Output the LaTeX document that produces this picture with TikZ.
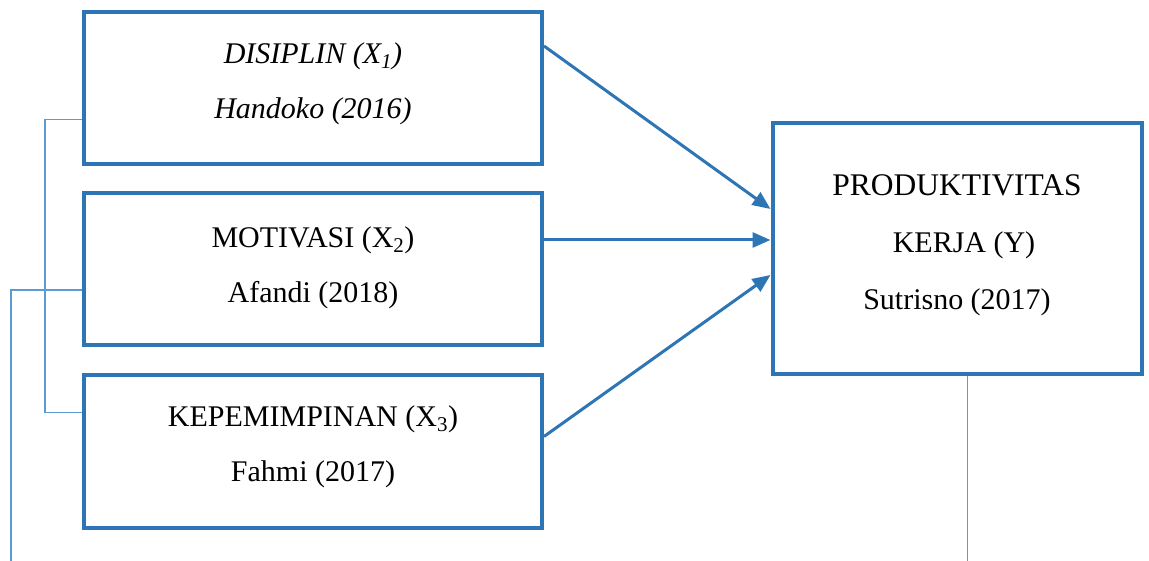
\documentclass[tikz,border=0pt]{standalone}
\usepackage{fontspec}
\setmainfont{Liberation Serif}
\usetikzlibrary{arrows.meta}
\definecolor{boxblue}{HTML}{2E75B6}
\definecolor{lineblue}{HTML}{5B9BD5}
\tikzset{
varbox/.style={draw=boxblue,line width=4pt,minimum width=458pt,minimum height=152pt,inner sep=0pt},
vartext/.style={align=center,font=\fontsize{30pt}{55pt}\selectfont},
link/.style={draw=lineblue,line width=1.5pt},
effect/.style={draw=boxblue,line width=3pt,-{Triangle[length=18pt,width=15pt]}}
}
\begin{document}
\begin{tikzpicture}[x=1pt,y=-1pt]
\useasboundingbox (0,0) rectangle (1149,561);
\node[varbox] (x1) at (313,88.5) {};
\node[varbox] (x2) at (313,269.5) {};
\node[varbox] (x3) at (313,451.5) {};
\node[varbox,minimum width=369pt,minimum height=251pt] (y) at (957,248.7) {};
\node[vartext] (x1t) at ([yshift=5pt]x1.center) {\textit{DISIPLIN (X\textsubscript{1})}\\\textit{Handoko (2016)}};
\node[vartext] (x2t) at ([yshift=2pt]x2.center) {MOTIVASI (X\textsubscript{2})\\Afandi (2018)};
\node[vartext] (x3t) at ([yshift=5pt]x3.center) {KEPEMIMPINAN (X\textsubscript{3})\\Fahmi (2017)};
\node[vartext,font=\fontsize{30pt}{57pt}\selectfont] (yt) at ([yshift=3pt]y.center) {{\fontsize{31.5pt}{57pt}\selectfont PRODUKTIVITAS}\\\hspace{14pt}KERJA (Y)\\Sutrisno (2017)};
\coordinate (brk1) at (45,300);
\coordinate (brk2) at (11,561);
\coordinate (yend) at (967.7,561);
\draw[link] ([yshift=-31pt]x1.west) -| (brk1) |- ([yshift=39pt]x3.west);
\draw[link] ([yshift=-20.5pt]x2.west) -| (brk2);
\draw[link] ([xshift=10.7pt]y.south) -- (yend);
\draw[effect] ([yshift=42.5pt]x1.east) -- ([yshift=39.7pt]y.west);
\draw[effect] ([yshift=29.5pt]x2.east) -- ([yshift=8.7pt]y.west);
\draw[effect] ([yshift=15pt]x3.east) -- ([yshift=-26.3pt]y.west);
\end{tikzpicture}
\end{document}
